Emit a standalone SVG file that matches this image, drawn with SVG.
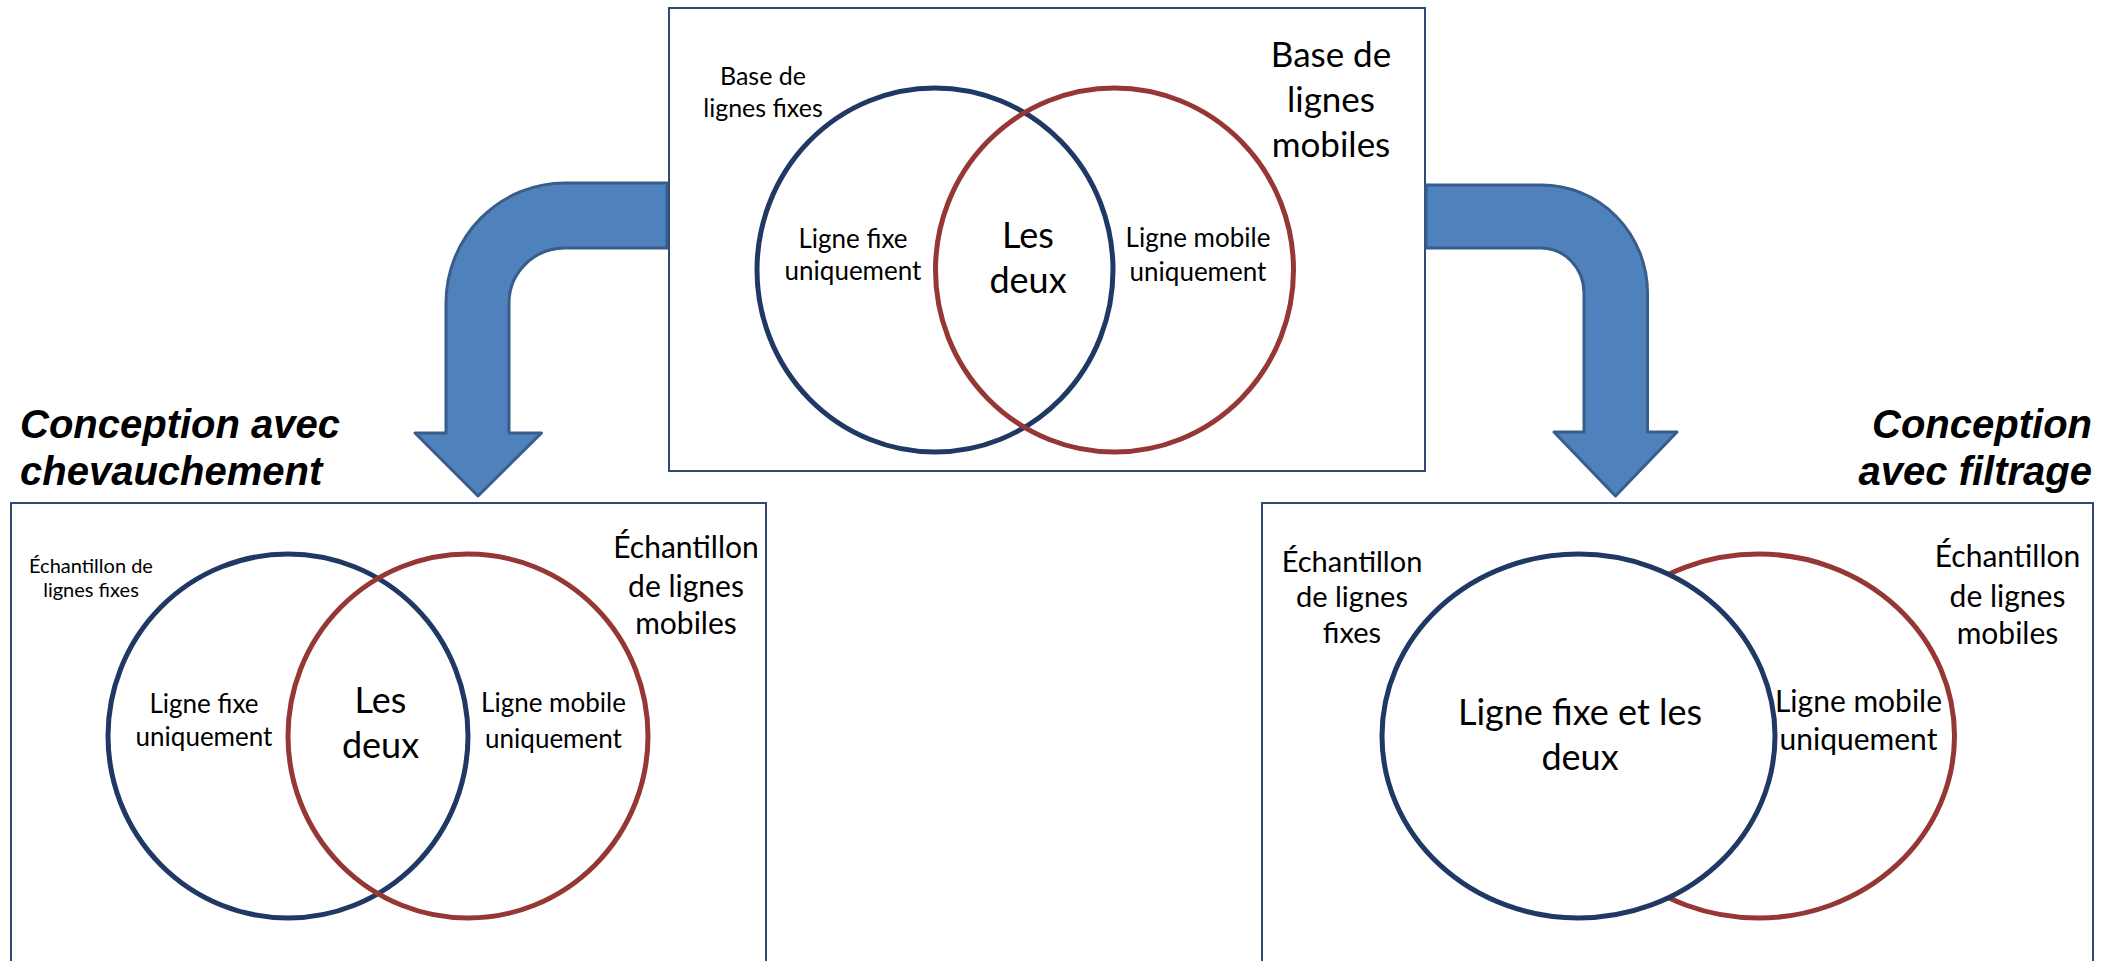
<svg xmlns="http://www.w3.org/2000/svg" width="2112" height="961" viewBox="0 0 2112 961">
<style>
.box{fill:#fff;stroke:#2E4A75;stroke-width:2}
.blue{fill:none;stroke:#1F3864;stroke-width:5}
.bluew{fill:#fff;stroke:#1F3864;stroke-width:5}
.red{fill:none;stroke:#953735;stroke-width:5}
.t{font-family:Lato,"Open Sans",sans-serif;fill:#000;text-anchor:middle}
.title{font-family:"Liberation Sans",Arial,sans-serif;font-weight:bold;font-style:italic;font-size:40px;fill:#000}
.arrow{fill:#4F81BD;stroke:#385D8A;stroke-width:3;stroke-linejoin:round}
</style>
<rect width="2112" height="961" fill="#fff"/>

<g id="top-venn">
<rect class="box" x="669" y="8" width="756" height="463"/>
<ellipse class="blue" cx="935" cy="270" rx="178" ry="182"/>
<ellipse class="red" cx="1114.5" cy="270" rx="179" ry="182"/>
<text class="t" font-size="25" x="763" y="85">Base de</text>
<text class="t" font-size="25" x="763" y="117">lignes fixes</text>
<text class="t" font-size="35" x="1331" y="67">Base de</text>
<text class="t" font-size="35" x="1331" y="112">lignes</text>
<text class="t" font-size="35" x="1331" y="157">mobiles</text>
<text class="t" font-size="26" x="853" y="248">Ligne fixe</text>
<text class="t" font-size="26" x="853" y="280">uniquement</text>
<text class="t" font-size="36" x="1028" y="248">Les</text>
<text class="t" font-size="36" x="1028" y="293">deux</text>
<text class="t" font-size="26" x="1198" y="247">Ligne mobile</text>
<text class="t" font-size="26" x="1198" y="281">uniquement</text>
</g>

<g id="connectors">
<path class="arrow" d="M 667 183 L 565 183 A 119 120 0 0 0 446 303 L 446 433 L 415 433 L 478 496 L 541.5 433 L 509 433 L 509 303 A 56 55 0 0 1 565 248 L 667 248 Z"/>
<path class="arrow" d="M 1426 185 L 1541 185 A 106 108 0 0 1 1647.5 293 L 1647.5 432 L 1677 432 L 1615.5 496 L 1554 432 L 1584 432 L 1584 293 A 43 45 0 0 0 1541 248 L 1426 248 Z"/>
</g>

<g id="title-overlap">
<text class="title" x="20" y="438">Conception avec</text>
<text class="title" x="20" y="485">chevauchement</text>
</g>

<g id="title-filter">
<text class="title" x="2092" y="438" text-anchor="end">Conception</text>
<text class="title" x="2092" y="485" text-anchor="end">avec filtrage</text>
</g>

<g id="overlap-venn">
<rect class="box" x="11" y="503" width="755" height="470"/>
<ellipse class="blue" cx="288" cy="736" rx="180" ry="182"/>
<ellipse class="red" cx="468" cy="736" rx="180" ry="182"/>
<text class="t" font-size="20" x="91" y="573">Échantillon de</text>
<text class="t" font-size="20" x="91" y="597">lignes fixes</text>
<text class="t" font-size="30" x="686" y="558">Échantillon</text>
<text class="t" font-size="30" x="686" y="597">de lignes</text>
<text class="t" font-size="30" x="686" y="634">mobiles</text>
<text class="t" font-size="26" x="204" y="713">Ligne fixe</text>
<text class="t" font-size="26" x="204" y="746">uniquement</text>
<text class="t" font-size="36" x="380.5" y="713">Les</text>
<text class="t" font-size="36" x="380.5" y="758">deux</text>
<text class="t" font-size="26" x="553.5" y="712">Ligne mobile</text>
<text class="t" font-size="26" x="553.5" y="748">uniquement</text>
</g>

<g id="filter-venn">
<rect class="box" x="1262" y="503" width="831" height="470"/>
<ellipse class="red" cx="1758.5" cy="736" rx="196" ry="182"/>
<ellipse class="bluew" cx="1578.5" cy="736" rx="196.5" ry="182"/>
<text class="t" font-size="29" x="1352" y="572">Échantillon</text>
<text class="t" font-size="29" x="1352" y="607">de lignes</text>
<text class="t" font-size="29" x="1352" y="643">fixes</text>
<text class="t" font-size="30" x="2007.5" y="567">Échantillon</text>
<text class="t" font-size="30" x="2007.5" y="607">de lignes</text>
<text class="t" font-size="30" x="2007.5" y="644">mobiles</text>
<text class="t" font-size="36" x="1580" y="725">Ligne fixe et les</text>
<text class="t" font-size="36" x="1580" y="770">deux</text>
<text class="t" font-size="30" x="1858.5" y="712">Ligne mobile</text>
<text class="t" font-size="30" x="1858.5" y="750">uniquement</text>
</g>
</svg>
